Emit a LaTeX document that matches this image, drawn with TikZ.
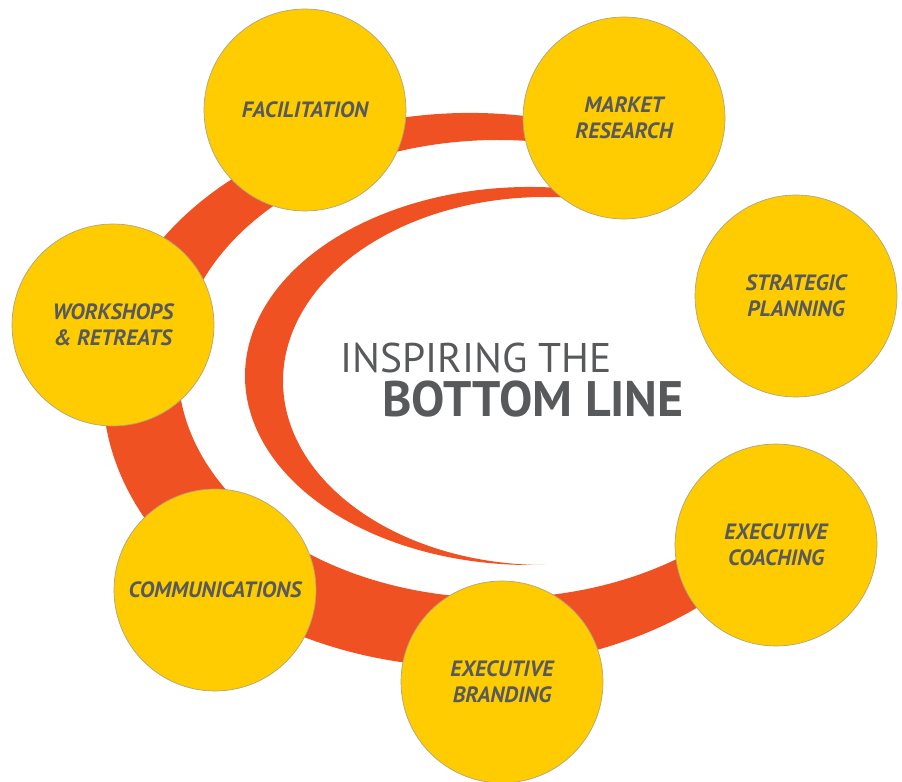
\documentclass[tikz,border=0pt]{standalone}
\usepackage{fontspec}
\setmainfont{PT Sans}
\definecolor{ringred}{HTML}{F05123}
\definecolor{bubblefill}{HTML}{FECC00}
\definecolor{bubbleborder}{HTML}{B3A57A}
\definecolor{inkgray}{HTML}{58595B}
\tikzset{
  ring/.style={
    fill=ringred
  },
  bubble/.style={
    circle,
    fill=bubblefill,
    draw=bubbleborder,
    line width=0.4pt,
    minimum size=4.04cm,
    inner sep=0pt,
    align=center,
    text=inkgray,
    font=\fontsize{12.6}{14.8}\selectfont\bfseries\itshape
  },
  headline/.style={
    anchor=base west,
    inner sep=0pt,
    text=inkgray
  }
}

\begin{document}
\begin{tikzpicture}[x=0.02cm, y=0.02cm]

\useasboundingbox (0,0) rectangle (902,781);

% Thick outer band, open on the right side.
\fill[ring] (470,391) ++(69:367 and 277)
  arc[start angle=69, end angle=313, x radius=367, y radius=277]
  -- (718.3,245.9)
  arc[start angle=-46.5, end angle=-291, x radius=320, y radius=229]
  -- cycle;

% Thin inner crescent.
\fill[ring] (530,405) ++(80:285 and 189)
  arc[start angle=80, end angle=270, x radius=285, y radius=189]
  -- (545,216)
  arc[start angle=270, end angle=80, x radius=262, y radius=184]
  -- cycle;

% Title in the middle.
\node[headline, font=\fontsize{23.6}{28}\selectfont] (inspiring) at (340,408) {INSPIRING THE};
\node[headline, font=\fontsize{28.4}{33}\selectfont\bfseries] (bottomline) at (382,364) {BOTTOM LINE};

% Service bubbles around the ring.
\node[bubble] (facilitation) at (305,671) {FACILITATION};
\node[bubble] (market) at (624,663) {MARKET\\RESEARCH};
\node[bubble] (strategic) at (796,485) {STRATEGIC\\PLANNING};
\node[bubble] (workshops) at (113,456) {WORKSHOPS\\\& RETREATS};
\node[bubble] (comms) at (215,191) {COMMUNICATIONS};
\node[bubble] (branding) at (502,99) {EXECUTIVE\\BRANDING};
\node[bubble] (coaching) at (776,236) {EXECUTIVE\\COACHING};

\end{tikzpicture}
\end{document}
